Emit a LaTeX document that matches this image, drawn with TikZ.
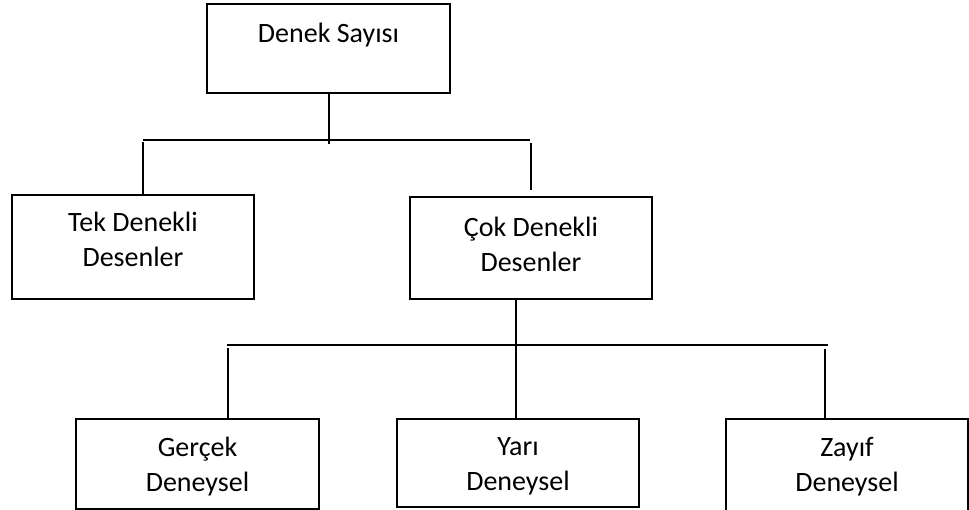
\documentclass[tikz,border=0pt]{standalone}
\usepackage{fontspec}
\setmainfont{Carlito}
\begin{document}
\begin{tikzpicture}[x=1pt,y=-1pt,
  box/.style={draw=black, line width=1.5pt, inner sep=0pt},
  txt/.style={inner sep=0pt, align=center, font=\fontsize{28}{35}\selectfont},
  conn/.style={draw=black, line width=1.2pt}]
\useasboundingbox (0,0) rectangle (969,510);
% top box
\node[box, minimum width=243pt, minimum height=89pt] (top) at (328.5,48.5) {};
\node[txt, anchor=base] (toptxt) at (328.5,43) {Denek Sayısı};
% second tier
\node[box, minimum width=242pt, minimum height=104pt] (tek) at (133,247) {};
\node[txt] (tektxt) at (133,239) {Tek Denekli\\Desenler};
\node[box, minimum width=242pt, minimum height=102pt] (cok) at (531,248) {};
\node[txt] (coktxt) at (531,244) {Çok Denekli\\Desenler};
% third tier
\node[box, minimum width=243pt, minimum height=90pt] (ger) at (197.5,464) {};
\node[txt] (gertxt) at (197.5,467) {Gerçek\\Deneysel};
\node[box, minimum width=242pt, minimum height=88pt] (yari) at (518,463) {};
\node[txt] (yaritxt) at (518,466) {Yarı\\Deneysel};
\node[box, minimum width=242pt, minimum height=100pt] (zay) at (847,469) {};
\node[txt] (zaytxt) at (847,467) {Zayıf\\Deneysel};
% connectors tier 1
\coordinate (h1l) at (143,140);
\coordinate (h1r) at (530,140);
\draw[conn] (top.south -| 329,0) -- (329,144);
\draw[conn] (h1l) -- (h1r);
\draw[conn] (143,142) -- (tek.north -| 143,0);
\draw[conn] (531,143) -- (531,190);
% connectors tier 2
\coordinate (h2l) at (227,345);
\coordinate (h2r) at (828,345);
\draw[conn] (cok.south -| 516,0) -- (yari.north -| 516,0);
\draw[conn] (h2l) -- (h2r);
\draw[conn] (228,348) -- (ger.north -| 228,0);
\draw[conn] (825,349) -- (zay.north -| 825,0);
\end{tikzpicture}
\end{document}
